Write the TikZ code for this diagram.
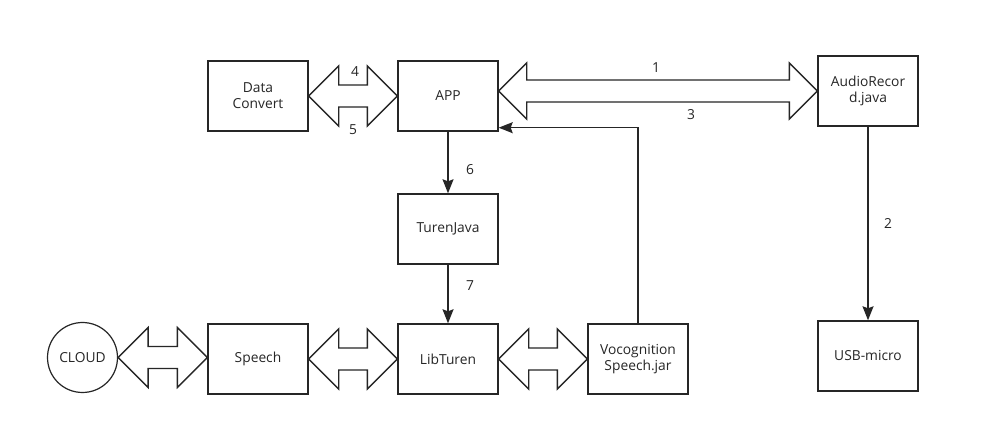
\documentclass[tikz,border=0pt]{standalone}
\usepackage{fontspec}
\setmainfont{Open Sans}
\usetikzlibrary{calc,arrows.meta}
\definecolor{ink}{RGB}{38,38,38}
\tikzset{
  box/.style={draw=ink,line width=1.4pt,minimum width=100pt,minimum height=70pt,inner sep=0pt,align=center,text=ink,font=\fontsize{13.8}{16}\selectfont},
  cloudnode/.style={draw=ink,line width=1.2pt,circle,minimum size=70pt,inner sep=0pt,text=ink,font=\fontsize{13.8}{16}\selectfont},
  lbl/.style={text=ink,inner sep=0pt,font=\fontsize{13.8}{16}\selectfont},
  dblstyle/.style={draw=ink,line width=1.4pt,fill=white,line join=miter},
  conn/.style={draw=ink,line width=1.4pt,-{Stealth[length=14pt,width=11pt,inset=2pt]}}
}
\newcommand\dblarrow[3][30pt]{\path[dblstyle] let \p1=(#2), \p2=(#3) in
  (\x1,\y1) -- ++(#1,#1) -- (\x1+#1,\y1+11pt) -- (\x2-#1,\y1+11pt) -- (\x2-#1,\y1+#1)
  -- (\x2,\y1) -- (\x2-#1,\y1-#1) -- (\x2-#1,\y1-11pt) -- (\x1+#1,\y1-11pt) -- (\x1+#1,\y1-#1) -- cycle;}
\begin{document}
\begin{tikzpicture}[x=1pt,y=-1pt]
\path[use as bounding box,fill=white] (0,0) rectangle (1001,427);
\node[box] (dc) at (258,96) {Data\\Convert};
\node[box] (app) at (448,96) {APP};
\node[box] (audio) at (868,91) {AudioRecor\\d.java};
\node[box] (turen) at (448,229) {TurenJava};
\node[box] (lib) at (448,359) {LibTuren};
\node[box] (speech) at (258,359) {Speech};
\node[box] (voc) at (638,359) {Vocognition\\Speech.jar};
\node[box] (usb) at (868,356) {USB-micro};
\node[cloudnode] (cloud) at (82.5,357.5) {CLOUD};
\coordinate (appin) at ($(app.south east)+(0,-4)$);
% double arrows
\dblarrow{dc.east}{app.west}
\dblarrow[28pt]{app.east |- audio.center}{audio.west}
\dblarrow{cloud.east}{cloud.east -| speech.west}
\dblarrow{speech.east}{lib.west}
\dblarrow{lib.east}{voc.west}
% single arrows
\draw[conn] (app.south) -- (turen.north);
\draw[conn] (turen.south) -- (lib.north);
\draw[conn] (audio.south) -- (usb.north);
\draw[conn] (voc.north) |- (appin);
% labels
\node[lbl] (l4) at (355,72) {4};
\node[lbl] (l5) at (353,130) {5};
\node[lbl] (l1) at (656,68) {1};
\node[lbl] (l3) at (691,115) {3};
\node[lbl] (l6) at (470,170) {6};
\node[lbl] (l7) at (470,286) {7};
\node[lbl] (l2) at (888,224) {2};
\end{tikzpicture}
\end{document}
